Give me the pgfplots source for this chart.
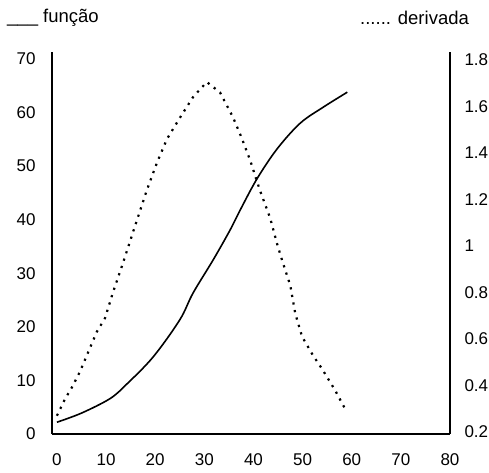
\documentclass[border=0pt]{standalone}
\usepackage{fontspec}
\setmainfont{Liberation Sans}
\usepackage{pgfplots}
\pgfplotsset{compat=1.18}
\begin{document}
\begin{tikzpicture}[x=1pt,y=1pt]
\path[use as bounding box] (0,0) rectangle (489,472);
\pgfplotsset{
  every axis/.append style={
    scale only axis, width=398pt, height=382pt,
    at={(52pt,38pt)}, anchor=south west,
    xmin=-1, xmax=80,
    major tick length=0pt,
    tick style={draw=none},
    axis line style={line width=1.6pt},
    /pgf/number format/assume math mode=true,
    tick label style={font=\fontsize{17}{20}\selectfont},
  }
}
\begin{axis}[
  axis x line*=bottom, axis y line*=left,
  ymin=0, ymax=71.3,
  xtick={0,10,...,80}, ytick={0,10,...,70},
  yticklabel style={xshift=-13pt},
  xticklabel style={yshift=-16pt},
]
\addplot[black, line width=1.6pt, smooth, tension=0.55] coordinates {
(0,2.2) (5,3.9) (10.8,6.6) (14.2,9.3) (19.6,14.4) (25,21.3) (27.7,26.3)
(31.8,32.5) (35.2,38) (37.3,41.8) (40.7,47.6) (44.8,53.2) (49.5,58) (54.2,61) (59.1,63.8)
};
\end{axis}
\begin{axis}[
  axis x line=none, axis y line*=right,
  ymin=0.1914, ymax=1.834,
  ytick={0.2,0.4,0.6,0.8,1,1.2,1.4,1.6,1.8},
  yticklabel style={anchor=west, xshift=11pt},
]
\addplot[black, line width=2.2pt, dash pattern=on 2.2pt off 5.5pt] coordinates {
(0,0.27) (1.6,0.34) (3,0.39) (4.7,0.46) (6.3,0.54) (8.1,0.63) (9.8,0.69)
(11.4,0.80) (13.5,0.93) (15.5,1.06) (18.3,1.24) (20.4,1.36) (22.4,1.46)
(25,1.55) (27.7,1.64) (30.5,1.705) (33.2,1.66) (35.8,1.555) (37.5,1.47)
(39.3,1.37) (41.3,1.24) (43.4,1.12) (44.8,1.01) (45.8,0.94) (47.5,0.83)
(48.5,0.71) (49.9,0.61) (52.1,0.53) (54,0.47) (56.6,0.38) (59,0.286)
};
\end{axis}
\node[anchor=base west, inner sep=0pt, font=\fontsize{18.5}{22}\selectfont] at (7,449) {\_\_\_ função};
\node[anchor=base west, inner sep=0pt, font=\fontsize{18.5}{22}\selectfont] at (360,447) {...... derivada};
\end{tikzpicture}
\end{document}
